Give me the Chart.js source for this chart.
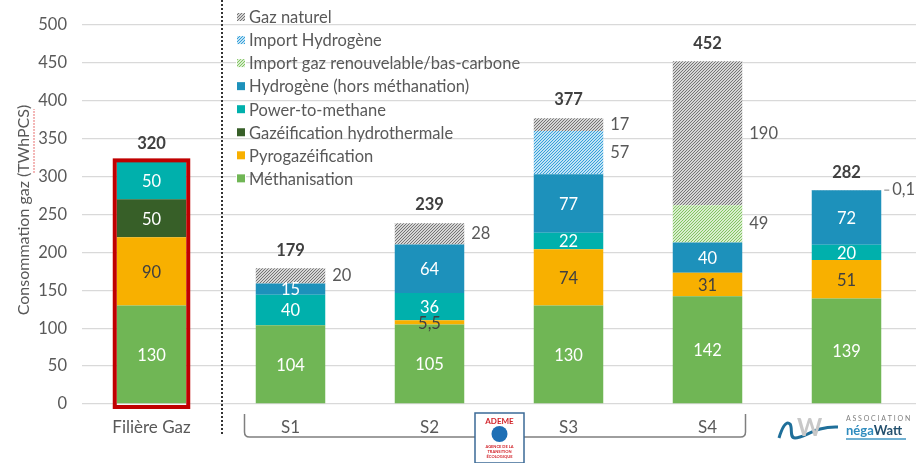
<!DOCTYPE html>
<html lang="fr">
<head>
<meta charset="utf-8">
<script src="https://cdn.jsdelivr.net/npm/chart.js@4.4.1/dist/chart.umd.min.js"></script>
<style>
  html, body { margin: 0; padding: 0; background: #fff; }
  #wrap { width: 919px; height: 463px; }
</style>
</head>
<body>
<div id="wrap"><canvas id="gazChart" width="919" height="463"></canvas></div>
<script>
// catégories (la dernière colonne = scénario négaWatt, sans libellé)
const categories = ['Filière Gaz', 'S1', 'S2', 'S3', 'S4', ''];

// séries (TWhPCS) – null = pas de segment
const methanisation     = [130, 104, 105, 130, 142, 139];
const pyrogazeification = [90, null, 5.5, 74, 31, 51];
const gazeifHydro       = [50, null, null, null, null, null];
const powerToMethane    = [50, 40, 36, 22, null, 20];
const hydrogene         = [null, 15, 64, 77, 40, 72];
const importRenouvelable = [null, null, null, null, 49, null];
const importHydrogene   = [null, null, null, 57, null, null];
const gazNaturel        = [null, 20, 28, 17, 190, 0.1];

// totaux affichés au-dessus des barres
const totals = [320, 179, 239, 377, 452, 282];

// graduations de l'axe Y
const yTicks = [0, 50, 100, 150, 200, 250, 300, 350, 400, 450, 500];

const FONT = 'Lato, "Open Sans", sans-serif';
const GREY_TXT = '#595959';

// motif hachuré (////) pour les imports et le gaz naturel
function hatch(color) {
    const n = 3;
    const c = document.createElement('canvas');
    c.width = n; c.height = n;
    const x = c.getContext('2d');
    x.fillStyle = '#fff';
    x.fillRect(0, 0, n, n);
    x.strokeStyle = color;
    x.lineWidth = 1.1;
    x.beginPath();
    x.moveTo(0, n); x.lineTo(n, 0);
    x.moveTo(-1, 1); x.lineTo(1, -1);
    x.moveTo(n - 1, n + 1); x.lineTo(n + 1, n - 1);
    x.stroke();
    return x.createPattern(c, 'repeat');
}

const ctx = document.getElementById('gazChart').getContext('2d');

// ordre d'empilement : du bas vers le haut
const datasets = [
    { label: 'Méthanisation', data: methanisation, backgroundColor: '#70B655', txt: '#fff' },
    { label: 'Pyrogazéification', data: pyrogazeification, backgroundColor: '#F8B000', txt: '#404040' },
    { label: 'Gazéification hydrothermale', data: gazeifHydro, backgroundColor: '#375F28', txt: '#fff' },
    { label: 'Power-to-methane', data: powerToMethane, backgroundColor: '#00B0AC', txt: '#fff' },
    { label: 'Hydrogène (hors méthanation)', data: hydrogene, backgroundColor: '#1D91BB', txt: '#fff' },
    { label: 'Import gaz renouvelable/bas-carbone', data: importRenouvelable, backgroundColor: hatch('#7CC25A'), outside: true },
    { label: 'Import Hydrogène', data: importHydrogene, backgroundColor: hatch('#2A9BD8'), outside: true },
    { label: 'Gaz naturel', data: gazNaturel, backgroundColor: hatch('#6E6E6E'), outside: true }
];

function fmt(v) {
    return String(v).replace('.', ',');
}

// étiquettes, légende, cadre rouge et décorations
const decorPlugin = {
    id: 'decor',
    afterDatasetsDraw(chart) {
        const c = chart.ctx;
        const xs = chart.scales.x;
        const ys = chart.scales.y;
        c.save();

        // valeurs des segments
        chart.data.datasets.forEach((ds, i) => {
            const meta = chart.getDatasetMeta(i);
            meta.data.forEach((el, j) => {
                const v = ds.data[j];
                if (v == null) return;
                const yc = (el.y + el.base) / 2;
                c.font = '16.5px ' + FONT;
                c.textBaseline = 'middle';
                if (ds.outside) {
                    const xr = el.x + el.width / 2;
                    c.fillStyle = GREY_TXT;
                    c.textAlign = 'left';
                    if (v < 1) {
                        c.strokeStyle = '#7f7f7f';
                        c.lineWidth = 1;
                        c.beginPath();
                        c.moveTo(xr + 3, el.y); c.lineTo(xr + 8, el.y);
                        c.stroke();
                        c.fillText(fmt(v), xr + 11, el.y);
                    } else {
                        c.fillText(fmt(v), xr + 7, yc);
                    }
                } else {
                    c.fillStyle = ds.txt;
                    c.textAlign = 'center';
                    c.fillText(fmt(v), el.x, yc + 1);
                }
            });
        });

        // totaux
        c.font = 'bold 16.5px ' + FONT;
        c.fillStyle = '#404040';
        c.textAlign = 'center';
        c.textBaseline = 'middle';
        totals.forEach((t, j) => {
            c.fillText(String(t), xs.getPixelForValue(j), ys.getPixelForValue(t) - 18);
        });

        // cadre rouge autour de la filière gaz
        const el0 = chart.getDatasetMeta(0).data[0];
        const half = el0.width / 2 + 2;
        const top = ys.getPixelForValue(totals[0]);
        c.strokeStyle = '#C00000';
        c.lineWidth = 4;
        c.strokeRect(el0.x - half, top - 1, half * 2, ys.getPixelForValue(0) - top + 4);

        // ligne pointillée verticale
        const sep = (xs.getPixelForValue(0) + xs.getPixelForValue(1)) / 2;
        c.strokeStyle = '#333';
        c.lineWidth = 2;
        c.setLineDash([2, 2]);
        c.beginPath();
        c.moveTo(sep + 1, 0); c.lineTo(sep + 1, 436);
        c.stroke();
        c.setLineDash([]);

        // accolade sous S1–S4
        const bl = xs.getPixelForValue(1) - 46;
        const br = xs.getPixelForValue(4) + 38;
        c.strokeStyle = '#7f7f7f';
        c.lineWidth = 1.5;
        c.beginPath();
        c.moveTo(bl, 414);
        c.lineTo(bl, 432);
        c.quadraticCurveTo(bl, 437, bl + 5, 437);
        c.lineTo(br - 5, 437);
        c.quadraticCurveTo(br, 437, br, 432);
        c.lineTo(br, 414);
        c.stroke();

        // légende
        c.font = '16.5px ' + FONT;
        c.textAlign = 'left';
        c.textBaseline = 'middle';
        const legendOrder = chart.data.datasets.slice().reverse();
        legendOrder.forEach((ds, k) => {
            const y = 17 + k * 23.05;
            c.fillStyle = '#fff';
            c.fillRect(236, y - 5, 10, 10);
            c.fillStyle = ds.backgroundColor;
            c.fillRect(237, y - 4, 8, 8);
            c.fillStyle = GREY_TXT;
            c.fillText(ds.label, 249, y + 1);
        });

        // titre de l'axe Y
        c.save();
        c.translate(24, 210);
        c.rotate(-Math.PI / 2);
        c.font = '16px ' + FONT;
        c.fillStyle = GREY_TXT;
        c.textAlign = 'center';
        const title = 'Consommation gaz (TWhPCS)';
        c.fillText(title, 0, 0);
        const w = c.measureText(title).width;
        const w1 = c.measureText('Consommation gaz (').width;
        const w2 = c.measureText('TWhPCS').width;
        c.strokeStyle = '#E04040';
        c.lineWidth = 1;
        c.setLineDash([1.5, 1.5]);
        c.beginPath();
        c.moveTo(-w / 2 + w1, 10); c.lineTo(-w / 2 + w1 + w2, 10);
        c.stroke();
        c.restore();

        // logo ADEME
        c.fillStyle = '#fff';
        c.fillRect(475, 413, 49, 50);
        c.strokeStyle = '#3B6A96';
        c.lineWidth = 1.5;
        c.strokeRect(475, 413, 49, 50);
        c.fillStyle = '#D2232A';
        c.font = 'bold 8px ' + FONT;
        c.textAlign = 'center';
        c.fillText('ADEME', 499.5, 421);
        c.fillStyle = '#1E6FB5';
        c.beginPath();
        c.arc(499.5, 434, 8, 0, Math.PI * 2);
        c.fill();
        c.fillStyle = '#D2232A';
        c.font = 'bold 4px ' + FONT;
        c.fillText('AGENCE DE LA', 499.5, 447);
        c.fillText('TRANSITION', 499.5, 452);
        c.fillText('ÉCOLOGIQUE', 499.5, 457);

        // logo négaWatt
        c.strokeStyle = '#1F6F9A';
        c.lineWidth = 3;
        c.beginPath();
        c.moveTo(779, 438);
        c.bezierCurveTo(782, 428, 786, 420, 790, 424);
        c.bezierCurveTo(793, 428, 789, 438, 795, 438);
        c.bezierCurveTo(805, 438, 815, 426, 838, 427);
        c.stroke();
        c.fillStyle = '#C8C8C8';
        c.font = 'bold 24px ' + FONT;
        c.textAlign = 'left';
        c.fillText('W', 797, 428);
        c.fillStyle = '#7f7f7f';
        c.font = '7px ' + FONT;
        c.fillText('A S S O C I A T I O N', 846, 419);
        c.font = 'bold 13px ' + FONT;
        c.fillStyle = '#2E8BBE';
        c.fillText('néga', 846, 431);
        const nw = c.measureText('néga').width;
        c.fillStyle = '#24506E';
        c.fillText('Watt', 846 + nw, 431);
        c.fillStyle = '#6FB0D2';
        c.fillRect(846, 438, 60, 2);

        c.restore();
    }
};

new Chart(ctx, {
    type: 'bar',
    data: { labels: categories, datasets: datasets },
    options: {
        responsive: false,
        animation: false,
        layout: { padding: { top: 14, right: 3, left: 0, bottom: 0 } },
        plugins: {
            legend: { display: false },
            tooltip: { enabled: false }
        },
        datasets: {
            bar: { barPercentage: 0.5, categoryPercentage: 1.0, borderWidth: 0 }
        },
        scales: {
            x: {
                stacked: true,
                grid: { display: false },
                border: { display: false },
                ticks: { color: GREY_TXT, font: { family: FONT, size: 17 }, padding: 5 },
                afterFit: s => { s.height = 59; }
            },
            y: {
                stacked: true,
                min: 0,
                max: 500,
                afterBuildTicks: s => { s.ticks = yTicks.map(v => ({ value: v })); },
                grid: { color: '#D9D9D9', lineWidth: 1.3, drawTicks: false },
                border: { display: false },
                ticks: { color: GREY_TXT, font: { family: FONT, size: 16.5 }, padding: 15 },
                afterFit: s => { s.width = 82; }
            }
        }
    },
    plugins: [decorPlugin]
});
</script>
</body>
</html>
